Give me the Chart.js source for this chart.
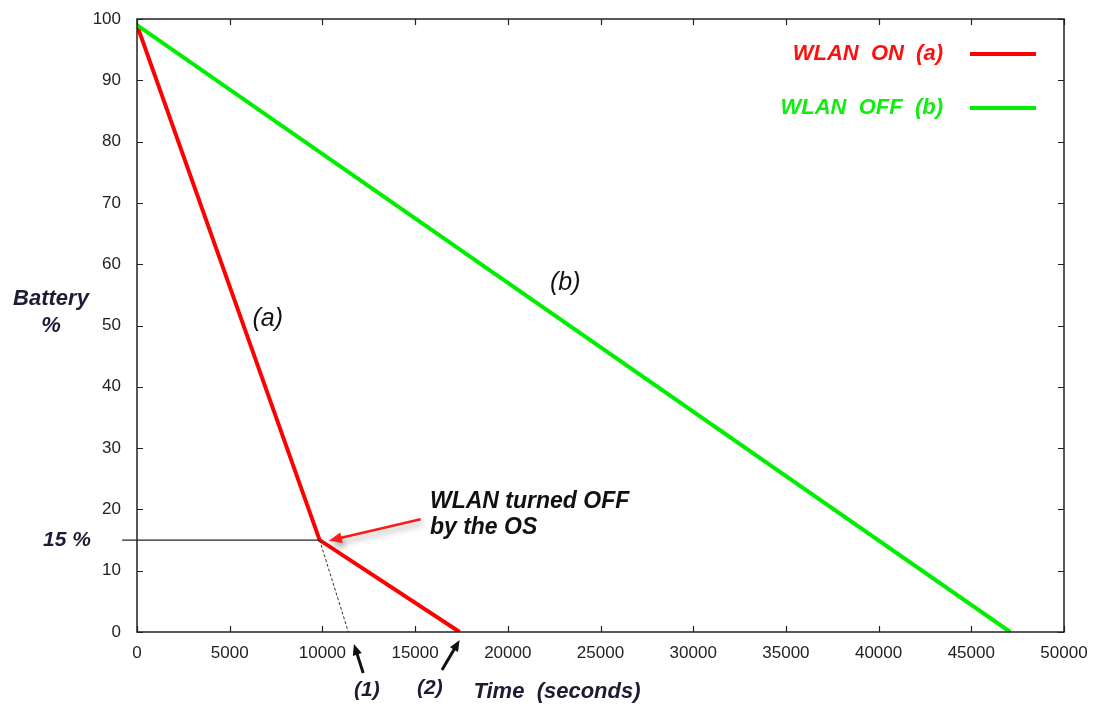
<!DOCTYPE html>
<html>
<head>
<meta charset="utf-8">
<script src="https://cdn.jsdelivr.net/npm/chart.js@4"></script>
<style>
  html, body { margin: 0; padding: 0; background: #fff; }
  #wrap { width: 1095px; height: 709px; position: relative; }
</style>
</head>
<body>
<div id="wrap"><canvas id="lineChart"></canvas></div>
<script>
// WLAN ON (a): drains fast until the OS turns WLAN off at 15 %
var onTime = [0, 9850, 17400];
var onBattery = [99, 15, 0];

// WLAN OFF (b)
var offTime = [0, 47100];
var offBattery = [99, 0];

// extrapolation of (a) if WLAN had stayed on
var extraTime = [9850, 11400];
var extraBattery = [15, 0];

// 15 % threshold marker
var thresholdTime = [-800, 9850];
var thresholdBattery = [15, 15];

var xTicks = [0, 5000, 10000, 15000, 20000, 25000, 30000, 35000, 40000, 45000, 50000];
var yTicks = [0, 10, 20, 30, 40, 50, 60, 70, 80, 90, 100];

function toPoints(xs, ys) {
    return xs.map(function(x, i){ return { x: x, y: ys[i] }; });
}

var dark = '#1c1c34';
var fam = '"Liberation Sans", Arial, sans-serif';

function arrow(ctx, x1, y1, x2, y2, color, width, head) {
    var a = Math.atan2(y2 - y1, x2 - x1);
    ctx.strokeStyle = color;
    ctx.fillStyle = color;
    ctx.lineWidth = width;
    ctx.beginPath();
    ctx.moveTo(x1, y1);
    ctx.lineTo(x2 - Math.cos(a) * head * 0.6, y2 - Math.sin(a) * head * 0.6);
    ctx.stroke();
    ctx.beginPath();
    ctx.moveTo(x2, y2);
    ctx.lineTo(x2 - head * Math.cos(a - 0.4), y2 - head * Math.sin(a - 0.4));
    ctx.lineTo(x2 - head * Math.cos(a + 0.4), y2 - head * Math.sin(a + 0.4));
    ctx.closePath();
    ctx.fill();
}

// ticks inside the frame (mirrored), labels and arrows
var decorPlugin = {
    id: 'decor',
    afterDraw: function(chart) {
        var ctx = chart.ctx;
        var xs = chart.scales.x, ys = chart.scales.y;
        var area = chart.chartArea;
        ctx.save();

        // frame
        ctx.strokeStyle = '#222';
        ctx.lineWidth = 1.5;
        ctx.strokeRect(area.left, area.top, area.right - area.left, area.bottom - area.top);

        // inward ticks
        ctx.lineWidth = 1.2;
        ctx.beginPath();
        xTicks.forEach(function(v){
            var px = Math.round(xs.getPixelForValue(v)) + 0.5;
            ctx.moveTo(px, area.bottom); ctx.lineTo(px, area.bottom - 6);
            ctx.moveTo(px, area.top); ctx.lineTo(px, area.top + 6);
        });
        yTicks.forEach(function(v){
            var py = Math.round(ys.getPixelForValue(v)) + 0.5;
            ctx.moveTo(area.left, py); ctx.lineTo(area.left + 6, py);
            ctx.moveTo(area.right, py); ctx.lineTo(area.right - 6, py);
        });
        ctx.stroke();

        // legend
        ctx.textAlign = 'right';
        ctx.textBaseline = 'middle';
        ctx.font = 'italic bold 22px ' + fam;
        ctx.fillStyle = '#ff1010';
        ctx.fillText('WLAN  ON  (a)', 943, 54);
        ctx.fillStyle = '#10ee10';
        ctx.fillText('WLAN  OFF  (b)', 943, 108);
        ctx.lineWidth = 4;
        ctx.strokeStyle = '#ff0000';
        ctx.beginPath(); ctx.moveTo(970, 54); ctx.lineTo(1036, 54); ctx.stroke();
        ctx.strokeStyle = '#00ee00';
        ctx.beginPath(); ctx.moveTo(970, 108); ctx.lineTo(1036, 108); ctx.stroke();

        // axis titles
        ctx.textAlign = 'center';
        ctx.fillStyle = dark;
        ctx.font = 'italic bold 22px ' + fam;
        ctx.fillText('Battery', 51, 299);
        ctx.fillText('%', 51, 326);
        ctx.font = 'italic bold 21px ' + fam;
        ctx.fillText('15 %', 67, ys.getPixelForValue(15));
        ctx.font = 'italic bold 22px ' + fam;
        ctx.fillText('Time  (seconds)', 557, 692);

        // (1) and (2)
        ctx.font = 'italic bold 21px ' + fam;
        ctx.fillText('(1)', xs.getPixelForValue(12400), 690);
        ctx.fillText('(2)', xs.getPixelForValue(15800), 688);
        arrow(ctx, xs.getPixelForValue(12200), 673, xs.getPixelForValue(11700), 644, '#111', 3, 12);
        arrow(ctx, xs.getPixelForValue(16450), 670, xs.getPixelForValue(17400), 640, '#111', 3, 12);

        // curve labels
        ctx.font = 'italic 25px ' + fam;
        ctx.fillText('(a)', xs.getPixelForValue(7050), ys.getPixelForValue(51));
        ctx.fillText('(b)', xs.getPixelForValue(23100), ys.getPixelForValue(57));

        // annotation
        ctx.textAlign = 'left';
        ctx.font = 'italic bold 23px ' + fam;
        ctx.fillText('WLAN turned OFF', xs.getPixelForValue(15800), ys.getPixelForValue(21.2));
        ctx.fillText('by the OS', xs.getPixelForValue(15800), ys.getPixelForValue(17.1));

        var ax1 = xs.getPixelForValue(15300), ay1 = ys.getPixelForValue(18.4);
        var ax2 = xs.getPixelForValue(10350), ay2 = ys.getPixelForValue(14.9);
        ctx.save();
        ctx.shadowColor = 'rgba(0,0,0,0.35)';
        ctx.shadowBlur = 6;
        ctx.shadowOffsetX = 2;
        ctx.shadowOffsetY = 4;
        arrow(ctx, ax1, ay1, ax2, ay2, '#ff1a1a', 2.5, 14);
        ctx.restore();

        ctx.restore();
    }
};

var ctx1 = document.getElementById('lineChart').getContext('2d');
window.myChart1 = new Chart(ctx1, {
    type: 'line',
    data: {
        datasets: [
            {
                label: 'threshold',
                data: toPoints(thresholdTime, thresholdBattery),
                borderColor: '#222',
                borderWidth: 1.2,
                pointRadius: 0,
                clip: false
            },
            {
                label: 'extrapolated',
                data: toPoints(extraTime, extraBattery),
                borderColor: '#333',
                borderWidth: 1,
                borderDash: [3, 2],
                pointRadius: 0
            },
            {
                label: 'WLAN OFF (b)',
                data: toPoints(offTime, offBattery),
                borderColor: '#00ee00',
                borderWidth: 4,
                pointRadius: 0
            },
            {
                label: 'WLAN ON (a)',
                data: toPoints(onTime, onBattery),
                borderColor: '#ff0000',
                borderWidth: 4,
                pointRadius: 0
            }
        ]
    },
    options: {
        responsive: true,
        maintainAspectRatio: false,
        animation: false,
        layout: { padding: { left: 0, right: 31, top: 19, bottom: 0 } },
        plugins: {
            legend: { display: false },
            tooltip: { enabled: false }
        },
        scales: {
            x: {
                type: 'linear',
                min: 0,
                max: 50000,
                afterFit: function(scale){
                    scale.height = 77;
                    scale.paddingLeft = 0;
                    scale.paddingRight = 0;
                },
                afterBuildTicks: function(scale){
                    scale.ticks = xTicks.map(function(v){ return { value: v }; });
                },
                grid: { display: false, drawTicks: false },
                border: { display: false },
                ticks: {
                    padding: 11,
                    color: '#222',
                    font: { family: fam, size: 17 },
                    maxRotation: 0,
                    autoSkip: false,
                    callback: function(v){ return String(v); }
                }
            },
            y: {
                min: 0,
                max: 100,
                afterFit: function(scale){
                    scale.width = 137;
                    scale.paddingTop = 0;
                    scale.paddingBottom = 0;
                },
                afterBuildTicks: function(scale){
                    scale.ticks = yTicks.map(function(v){ return { value: v }; });
                },
                grid: { display: false, drawTicks: false },
                border: { display: false },
                ticks: {
                    padding: 16,
                    color: '#222',
                    font: { family: fam, size: 17 },
                    callback: function(v){ return String(v); }
                }
            }
        }
    },
    plugins: [decorPlugin]
});
</script>
</body>
</html>
